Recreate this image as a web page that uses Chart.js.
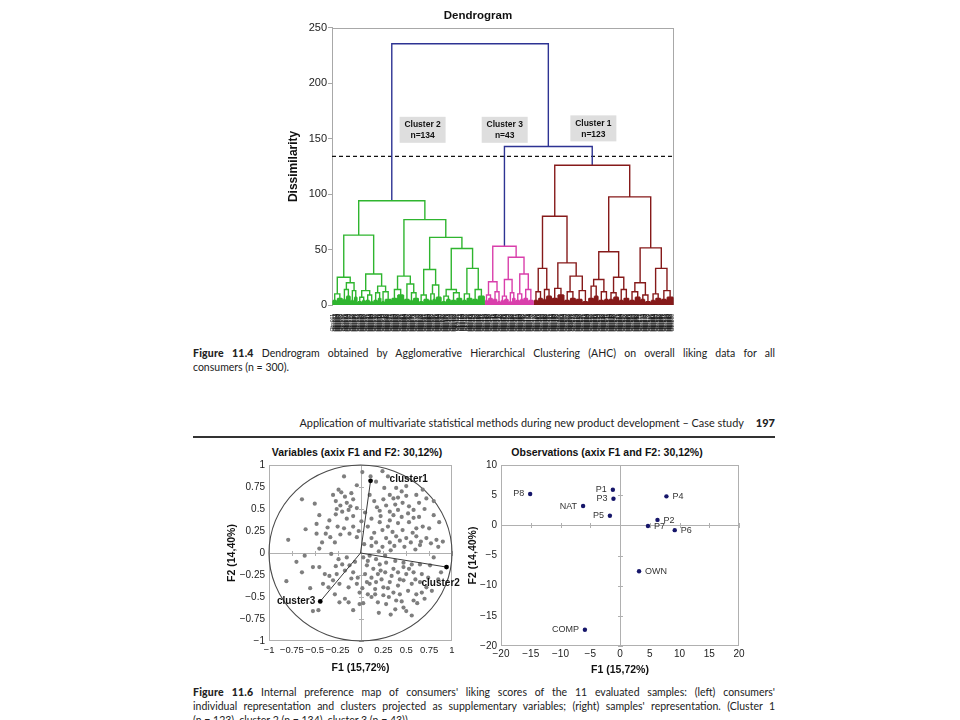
<!DOCTYPE html>
<html>
<head>
<meta charset="utf-8">
<script src="https://cdn.jsdelivr.net/npm/chart.js@4.4.1/dist/chart.umd.min.js"></script>
<style>
  html, body { margin: 0; padding: 0; background: #fff; }
  body { width: 960px; height: 720px; position: relative; overflow: hidden; font-family: Lato, "Liberation Sans", sans-serif; color: #222; }
  canvas { position: absolute; display: block; }
  .line { position: absolute; left: 193px; width: 582px; height: 14px; line-height: 14px; font-size: 10.5px; overflow: hidden; white-space: nowrap; }
  .just { text-align: justify; text-align-last: justify; }
  .line b { font-weight: 900; letter-spacing: 0.2px; }
  .ctitle { position: absolute; top: 446px; font: bold 10.5px "Liberation Sans", Arial, sans-serif; color: #111; white-space: nowrap; transform: translateX(-50%); }
  #header { position: absolute; left: 193px; width: 582px; top: 416px; font-size: 10.9px; text-align: right; white-space: nowrap; }
  #header b { margin-left: 12px; font-size: 11px; font-weight: 900; }
  #rule { position: absolute; left: 193px; width: 582px; top: 436px; height: 1.5px; background: #333; }
</style>
</head>
<body>
<canvas id="dendro" width="408" height="342" style="left:280px; top:0px;"></canvas>

<div class="line just" style="top:346px;"><b>Figure 11.4</b> Dendrogram obtained by Agglomerative Hierarchical Clustering (AHC) on overall liking data for all</div>
<div class="line" style="top:360px;">consumers (n = 300).</div>

<div id="header">Application of multivariate statistical methods during new product development – Case study<b>197</b></div>
<div id="rule"></div>

<div class="ctitle" style="left:357px;">Variables (axix F1 and F2: 30,12%)</div>
<div class="ctitle" style="left:607px;">Observations (axix F1 and F2: 30,12%)</div>
<canvas id="vars" width="272" height="225" style="left:190px; top:455px;"></canvas>
<canvas id="obs" width="290" height="225" style="left:462px; top:455px;"></canvas>

<div class="line just" style="top:685px;"><b>Figure 11.6</b> Internal preference map of consumers' liking scores of the 11 evaluated samples: (left) consumers'</div>
<div class="line just" style="top:699px;">individual representation and clusters projected as supplementary variables; (right) samples' representation. (Cluster 1</div>
<div class="line" style="top:713px;">(n = 123), cluster 2 (n = 134), cluster 3 (n = 43)).</div>

<script>
// ---------- dendrogram data ----------
// internal node: [height, left, right]; small leaf group: [height, leaves]
const cluster2Tree = [94,
  [63,
    [25, [10, [4, 4], [6, 5]], [20, [14, [5, 3], [8, 4]], [13, [4, 3], [7, 3]]]],
    [28, [13, [7, [3, 4], [4, 3]], [9, [4, 4], [3, 3]]], [17, [11, [4, 4], [6, 3]], [12, [3, 3], [5, 6]]]]
  ],
  [77,
    [26, [14, [6, 5], [9, 6]], [19, [5, 5], [11, [4, 3], [6, 5]]]],
    [61,
      [32, [9, [3, 4], [5, 5]], [18, [10, [4, 3], [5, 3]], [7, 5]]],
      [51, [14, [8, [3, 4], [5, 4]], [11, [4, 5], [6, 5]]], [33, [10, [4, 4], [6, 5]], [14, [5, 5], [8, 6]]]]
    ]
  ]
];
const cluster3Tree = [53,
  [21, [9, [4, 3], [6, 4]], [12, [5, 4], [3, 3]]],
  [43, [23, [8, [4, 3], [5, 4]], [11, [3, 3], [6, 3]]], [28, [10, [4, 4], [5, 3]], [14, [6, 4], [4, 5]]]]
];
const cluster1Tree = [126,
  [80,
    [33, [12, [4, 4], [6, 4]], [14, [5, 3], [8, 5]]],
    [38, [15, [6, 5], [9, 6]], [26, [12, [4, 5], [6, 5]], [13, [5, 6], [3, 5]]]]
  ],
  [97.5,
    [48, [23, [17, [6, 5], [8, 4]], [12, [4, 5], [5, 4]]], [25, [11, [5, 4], [7, 5]], [14, [4, 4], [6, 5]]]],
    [51.5, [20, [12, [4, 5], [7, 5]], [9, [5, 4], [3, 5]]], [33, [10, [4, 4], [6, 5]], [13, [5, 5], [7, 6]]]]
  ]
];
const rootHeight = 235.6;
const join31Height = 143;
const cutHeight = 134;
const clusterNames = ['Cluster 2', 'Cluster 3', 'Cluster 1'];
const clusterSizes = [134, 43, 123];

// ---------- preference map data ----------
const consumerF1 = [
  -0.18, 0.02, 0.24, 0.11, -0.64, -0.50, -0.45, -0.48, -0.48, -0.79,
  -0.24, -0.21, -0.27, -0.22, -0.15, -0.10, -0.08, -0.04, -0.13, -0.20,
  -0.27, -0.34, -0.15, -0.08, -0.18, -0.08, -0.25, -0.38, -0.33, -0.22,
  -0.04, 0.17, 0.32, 0.36, 0.41, 0.50, 0.61, 0.46, 0.53, 0.64,
  0.28, 0.21, 0.32, 0.41, 0.52, 0.64, 0.80, 0.12, 0.21, 0.32,
  0.41, 0.53, 0.61, 0.68, 0.46, 0.35, 0.24, 0.15, 0.28, 0.39,
  0.50, 0.61, 0.72, 0.83, 0.90, 0.17, 0.32, 0.43, 0.55, 0.66,
  0.77, 0.12, 0.24, 0.37, 0.48, 0.12, 0.08, 0.05, 0.15, 0.26,
  0.39, 0.50, 0.68, 0.80, 0.86, 0.75, -0.30, -0.17, -0.26, -0.11,
  0.01, -0.02, -0.12, -0.28, -0.45, 0.25, 0.38, 0.45, 0.58, 0.70,
  0.22, 0.30, 0.57, 0.65, 0.85, 0.20, 0.33, 0.04, 0.10, 0.72,
  0.45, 0.58, 0.36, 0.18, -0.36, -0.60, -0.42, -0.04, 0.30, 0.60,
  -0.61, -0.52, -0.45, -0.64, -0.81, -0.32, -0.24, -0.15, -0.20, -0.12,
  -0.17, -0.08, -0.26, -0.34, -0.39, -0.41, -0.35, -0.23, -0.13, -0.04,
  -0.28, -0.17, -0.23, -0.13, -0.01, 0.03, -0.46, -0.52, -0.01, -0.03,
  0.03, 0.10, 0.17, 0.07, 0.14, 0.21, 0.28, 0.38, 0.47, 0.56,
  0.65, 0.76, 0.05, 0.12, 0.19, 0.27, 0.34, 0.41, 0.50, 0.58,
  0.67, 0.74, 0.10, 0.17, 0.25, 0.32, 0.41, 0.47, 0.56, 0.65,
  0.72, 0.16, 0.25, 0.36, 0.43, 0.52, 0.61, 0.67, 0.78, 0.19,
  0.28, 0.38, 0.47, 0.50, 0.56, 0.39, 0.58, 0.08, 0.07, 0.16,
  0.23, 0.47, 0.36, 0.08, -0.27, -0.10, -0.30, -0.06, -0.55, -0.70,
  0.02, 0.12, 0.31, 0.45, 0.62, 0.70, 0.85, 0.88, 0.80, 0.27,
  0.60, 0.20, 0.33, -0.08, 0.30, 0.53, 0.43, 0.22
];
const consumerF2 = [
  0.87, 0.92, 0.93, 0.87, 0.61, 0.56, 0.43, 0.33, 0.22, 0.15,
  0.72, 0.69, 0.59, 0.54, 0.57, 0.68, 0.61, 0.51, 0.49, 0.47,
  0.44, 0.37, 0.39, 0.42, 0.28, 0.30, 0.30, 0.22, 0.18, 0.21,
  0.18, 0.81, 0.66, 0.62, 0.63, 0.65, 0.66, 0.57, 0.53, 0.57,
  0.54, 0.48, 0.47, 0.49, 0.45, 0.41, 0.43, 0.39, 0.35, 0.37,
  0.34, 0.35, 0.28, 0.30, 0.26, 0.24, 0.26, 0.23, 0.17, 0.19,
  0.17, 0.19, 0.17, 0.15, 0.13, 0.12, 0.12, 0.14, 0.12, 0.13,
  0.11, 0.08, 0.07, 0.08, 0.07, 0.17, 0.30, 0.46, 0.59, 0.74,
  0.74, 0.76, 0.72, 0.59, 0.35, 0.28, 0.66, 0.64, 0.50, 0.53,
  0.36, 0.25, 0.22, 0.12, 0.05, 0.61, 0.55, 0.41, 0.49, 0.50,
  0.42, 0.30, 0.23, 0.09, 0.07, 0.02, 0.03, 0.10, 0.66, 0.62,
  0.70, 0.40, 0.43, 0.52, 0.29, 0.27, 0.12, 0.77, 0.87, 0.04,
  -0.03, -0.16, -0.16, -0.22, -0.32, -0.01, -0.07, -0.05, -0.13, -0.14,
  -0.20, -0.22, -0.24, -0.26, -0.24, -0.35, -0.39, -0.35, -0.39, -0.35,
  -0.47, -0.52, -0.56, -0.56, -0.58, -0.57, -0.65, -0.66, -0.45, -0.28,
  -0.05, -0.03, -0.07, -0.14, -0.18, -0.13, -0.11, -0.09, -0.11, -0.13,
  -0.13, -0.14, -0.24, -0.28, -0.24, -0.22, -0.26, -0.22, -0.24, -0.22,
  -0.24, -0.28, -0.35, -0.33, -0.39, -0.33, -0.37, -0.31, -0.35, -0.33,
  -0.39, -0.47, -0.48, -0.45, -0.47, -0.43, -0.47, -0.45, -0.43, -0.56,
  -0.58, -0.64, -0.62, -0.66, -0.71, -0.54, -0.54, -0.47, -0.33, -0.41,
  -0.30, -0.16, -0.18, -0.09, -0.15, -0.29, -0.31, -0.10, -0.40, -0.10,
  -0.40, -0.50, -0.50, -0.55, -0.57, -0.52, -0.30, -0.22, -0.05, -0.03,
  -0.30, -0.68, -0.70, -0.65, -0.40, -0.18, -0.30, -0.20
];
const clusterVectorNames = ['cluster1', 'cluster2', 'cluster3'];
const clusterVectorF1 = [0.11, 0.94, -0.44];
const clusterVectorF2 = [0.82, -0.16, -0.55];

const sampleNames = ['P1', 'P2', 'P3', 'P4', 'P5', 'P6', 'P7', 'P8', 'NAT', 'OWN', 'COMP'];
const sampleF1 = [-1.2, 6.3, -1.1, 7.8, -1.7, 9.2, 4.7, -15.1, -6.2, 3.2, -5.9];
const sampleF2 = [5.9, 0.9, 4.4, 4.8, 1.6, -0.8, -0.1, 5.2, 3.2, -7.6, -17.3];

// ---------- styling helpers ----------
Chart.defaults.font.family = '"Liberation Sans", Arial, sans-serif';
Chart.defaults.color = '#222';
Chart.defaults.animation = false;
Chart.defaults.events = [];
const GAP = x => ({ x: x, y: null });
const fmt = v => String(Math.round(v * 100) / 100).replace('-', '\u2212');

// lay a (sub)tree out left to right, pushing its polylines into segs
function layoutTree(node, start, segs) {
  if (node.length === 2) {
    const [h, n] = node;
    for (let i = 0; i < n; i++) segs.push({ x: start + i, y: 0 }, { x: start + i, y: h }, GAP(start + i));
    segs.push({ x: start, y: h }, { x: start + n - 1, y: h }, GAP(start + n - 1));
    return { x: start + (n - 1) / 2, h: h, n: n };
  }
  const [h, a, b] = node;
  const ra = layoutTree(a, start, segs);
  const rb = layoutTree(b, start + ra.n, segs);
  segs.push({ x: ra.x, y: ra.h }, { x: ra.x, y: h }, { x: rb.x, y: h }, { x: rb.x, y: rb.h }, GAP(rb.x));
  return { x: (ra.x + rb.x) / 2, h: h, n: ra.n + rb.n };
}

const greenSegs = [], pinkSegs = [], redSegs = [];
const r2 = layoutTree(cluster2Tree, 0, greenSegs);
const r3 = layoutTree(cluster3Tree, r2.n, pinkSegs);
const r1 = layoutTree(cluster1Tree, r2.n + r3.n, redSegs);
const mid31 = (r3.x + r1.x) / 2;
const blueSegs = [
  { x: r3.x, y: r3.h }, { x: r3.x, y: join31Height }, { x: r1.x, y: join31Height }, { x: r1.x, y: r1.h }, GAP(r1.x),
  { x: r2.x, y: r2.h }, { x: r2.x, y: rootHeight }, { x: mid31, y: rootHeight }, { x: mid31, y: join31Height }
];
const leafTotal = r2.n + r3.n + r1.n;
const leafLabels = Array.from({ length: leafTotal }, (_, i) => 'Obs' + String(i + 1).padStart(3, '0'));

const framePlugin = {
  id: 'frame',
  beforeDatasetsDraw(chart, args, opts) {
    const a = chart.chartArea, ctx = chart.ctx;
    ctx.save();
    ctx.strokeStyle = opts.color || '#aaa';
    ctx.lineWidth = 1;
    ctx.strokeRect(Math.round(a.left) + 0.5, Math.round(a.top) + 0.5, Math.round(a.width) - 1, Math.round(a.height) - 1);
    ctx.restore();
  }
};

const clusterBoxPlugin = {
  id: 'clusterBoxes',
  afterDatasetsDraw(chart, args, opts) {
    const { ctx, scales: { x, y } } = chart;
    ctx.save();
    opts.at.forEach((p, i) => {
      const cx = x.getPixelForValue(p[0]), cy = y.getPixelForValue(p[1]);
      ctx.fillStyle = '#dedede';
      ctx.fillRect(cx - 23, cy - 13, 46, 26);
      ctx.fillStyle = '#111';
      ctx.font = 'bold 8.5px "Liberation Sans", Arial, sans-serif';
      ctx.textAlign = 'center';
      ctx.textBaseline = 'middle';
      ctx.fillText(clusterNames[i], cx, cy - 5);
      ctx.fillText('n=' + clusterSizes[i], cx, cy + 6);
    });
    ctx.restore();
  }
};

const dendroLine = (data, color) => ({ data: data, borderColor: color, borderWidth: 1.4, pointRadius: 0, borderJoinStyle: 'miter', spanGaps: false });

new Chart(document.getElementById('dendro'), {
  type: 'line',
  data: {
    datasets: [
      dendroLine(greenSegs, '#2fb52f'),
      dendroLine(pinkSegs, '#d93fab'),
      dendroLine(redSegs, '#861a1a'),
      dendroLine(blueSegs, '#2d3393'),
      { data: [{ x: -0.9, y: cutHeight }, { x: leafTotal + 0.3, y: cutHeight }], borderColor: '#111', borderWidth: 1.4, borderDash: [4, 3], pointRadius: 0 }
    ]
  },
  options: {
    responsive: false,
    layout: { padding: { left: 0, right: 12, top: 0, bottom: 0 } },
    plugins: {
      legend: { display: false },
      tooltip: { enabled: false },
      title: { display: true, text: 'Dendrogram', color: '#111', font: { size: 11.5, weight: 'bold' }, padding: { top: 9, bottom: 5 } },
      frame: { color: '#a8a8a8' },
      clusterBoxes: { at: [[78.8, 158], [151, 158], [229, 159.3]] }
    },
    scales: {
      x: {
        type: 'linear', min: -0.9, max: leafTotal + 0.3,
        afterBuildTicks: s => { s.ticks = leafLabels.map((_, i) => ({ value: i })); },
        afterFit: s => { s.height = 37; },
        grid: { display: false, drawTicks: false },
        border: { display: false },
        ticks: { autoSkip: false, minRotation: 90, maxRotation: 90, padding: 9, color: '#111', font: { size: 5 }, callback: (v, i) => leafLabels[i] }
      },
      y: {
        min: 0, max: 250,
        afterFit: s => { s.width = 52; },
        grid: { drawOnChartArea: false, tickLength: 4, color: '#a8a8a8' },
        border: { color: '#a8a8a8' },
        ticks: { stepSize: 50, padding: 1, color: '#222', font: { size: 11 } },
        title: { display: true, text: 'Dissimilarity', color: '#111', font: { size: 12, weight: 'bold' }, padding: { top: 6, bottom: 0 } }
      }
    }
  },
  plugins: [framePlugin, clusterBoxPlugin]
});

// ---------- preference maps ----------
const crossAxesPlugin = {
  id: 'crossAxes',
  beforeDatasetsDraw(chart, args, opts) {
    const { ctx, chartArea: a, scales: { x, y } } = chart;
    const x0 = Math.round(x.getPixelForValue(0)) + 0.5, y0 = Math.round(y.getPixelForValue(0)) + 0.5;
    ctx.save();
    ctx.strokeStyle = '#b0b0b0';
    ctx.lineWidth = 1;
    ctx.beginPath();
    ctx.moveTo(a.left, y0); ctx.lineTo(a.right, y0);
    ctx.moveTo(x0, a.top); ctx.lineTo(x0, a.bottom);
    x.ticks.forEach(t => { const px = Math.round(x.getPixelForValue(t.value)) + 0.5; ctx.moveTo(px, y0 - 2.5); ctx.lineTo(px, y0 + 2.5); });
    y.ticks.forEach(t => { const py = Math.round(y.getPixelForValue(t.value)) + 0.5; ctx.moveTo(x0 - 2.5, py); ctx.lineTo(x0 + 2.5, py); });
    ctx.stroke();
    if (opts.circle) {
      const rx = x.getPixelForValue(1) - x.getPixelForValue(0);
      const ry = y.getPixelForValue(0) - y.getPixelForValue(1);
      ctx.strokeStyle = '#4a4a4a';
      ctx.lineWidth = 1.1;
      ctx.beginPath();
      ctx.ellipse(x.getPixelForValue(0), y.getPixelForValue(0), rx, ry, 0, 0, Math.PI * 2);
      ctx.stroke();
    }
    ctx.restore();
  }
};

const pointLabelPlugin = {
  id: 'pointLabels',
  afterDatasetsDraw(chart, args, opts) {
    const { ctx, scales: { x, y } } = chart;
    ctx.save();
    ctx.font = opts.font;
    ctx.fillStyle = opts.color;
    ctx.textBaseline = 'middle';
    opts.names.forEach((name, i) => {
      const st = opts.place[i];
      ctx.textAlign = st.align;
      ctx.fillText(name, x.getPixelForValue(opts.xs[i]) + st.dx, y.getPixelForValue(opts.ys[i]) + st.dy);
    });
    ctx.restore();
  }
};

const axisTitle = (text, pad) => ({ display: true, text: text, color: '#111', font: { size: 10.5, weight: 'bold' }, padding: pad });

const vectorSets = clusterVectorNames.map((name, i) => ({
  data: [{ x: 0, y: 0 }, { x: clusterVectorF1[i], y: clusterVectorF2[i] }],
  showLine: true, borderColor: '#3a3a3a', borderWidth: 1,
  pointRadius: [0, 2.4], pointBackgroundColor: '#000', pointBorderWidth: 0
}));

new Chart(document.getElementById('vars'), {
  type: 'scatter',
  data: {
    datasets: vectorSets.concat([{
      data: consumerF1.map((v, i) => ({ x: v, y: consumerF2[i] })),
      pointRadius: 2.1, pointBackgroundColor: '#7e7e7e', pointBorderWidth: 0
    }])
  },
  options: {
    responsive: false,
    layout: { padding: { left: 0, right: 10, top: 8, bottom: 0 } },
    plugins: {
      legend: { display: false }, tooltip: { enabled: false },
      frame: { color: '#b0b0b0' },
      crossAxes: { circle: true },
      pointLabels: {
        names: clusterVectorNames, xs: clusterVectorF1, ys: clusterVectorF2,
        font: 'bold 10px "Liberation Sans", Arial, sans-serif', color: '#111',
        place: [{ dx: 19, dy: -2, align: 'left' }, { dx: -25, dy: 16.5, align: 'left' }, { dx: -5, dy: 0, align: 'right' }]
      }
    },
    scales: {
      x: {
        min: -1, max: 1,
        afterFit: s => { s.height = 39; },
        grid: { display: false, drawTicks: false }, border: { display: false },
        ticks: { stepSize: 0.25, padding: 4, autoSkip: false, minRotation: 0, maxRotation: 0, color: '#222', font: { size: 9.5 }, callback: fmt },
        title: axisTitle('F1 (15,72%)', { top: 0, bottom: 5.7 })
      },
      y: {
        min: -1, max: 1,
        afterFit: s => { s.width = 79; },
        grid: { display: false, drawTicks: false }, border: { display: false },
        ticks: { stepSize: 0.25, padding: 4, color: '#222', font: { size: 10 }, callback: fmt },
        title: axisTitle('F2 (14,40%)', { top: 35.7, bottom: 0 })
      }
    }
  },
  plugins: [framePlugin, crossAxesPlugin, pointLabelPlugin]
});

new Chart(document.getElementById('obs'), {
  type: 'scatter',
  data: {
    datasets: [{
      data: sampleF1.map((v, i) => ({ x: v, y: sampleF2[i] })),
      pointRadius: 2.2, pointBackgroundColor: '#16166a', pointBorderWidth: 0
    }]
  },
  options: {
    responsive: false,
    layout: { padding: { left: 0, right: 13, top: 10, bottom: 0 } },
    plugins: {
      legend: { display: false }, tooltip: { enabled: false },
      frame: { color: '#b0b0b0' },
      crossAxes: { circle: false },
      pointLabels: {
        names: sampleNames, xs: sampleF1, ys: sampleF2,
        font: '9px "Liberation Sans", Arial, sans-serif', color: '#333',
        place: ['left', 'right', 'left', 'right', 'left', 'right', 'right', 'left', 'left', 'right', 'left']
          .map(side => side === 'left' ? { dx: -6, dy: 0, align: 'right' } : { dx: 6, dy: 0.5, align: 'left' })
      }
    },
    scales: {
      x: {
        min: -20, max: 20,
        afterFit: s => { s.height = 34; },
        grid: { display: false, drawTicks: false }, border: { display: false },
        ticks: { stepSize: 5, padding: 2, autoSkip: false, minRotation: 0, maxRotation: 0, color: '#222', font: { size: 10 }, callback: fmt },
        title: axisTitle('F1 (15,72%)', { top: 0, bottom: 3.7 })
      },
      y: {
        min: -20, max: 10,
        afterFit: s => { s.width = 39; },
        grid: { display: false, drawTicks: false }, border: { display: false },
        ticks: { stepSize: 5, padding: 4, color: '#222', font: { size: 10 }, callback: fmt },
        title: axisTitle('F2 (14,40%)', { top: 4.7, bottom: 0 })
      }
    }
  },
  plugins: [framePlugin, crossAxesPlugin, pointLabelPlugin]
});
</script>
</body>
</html>
